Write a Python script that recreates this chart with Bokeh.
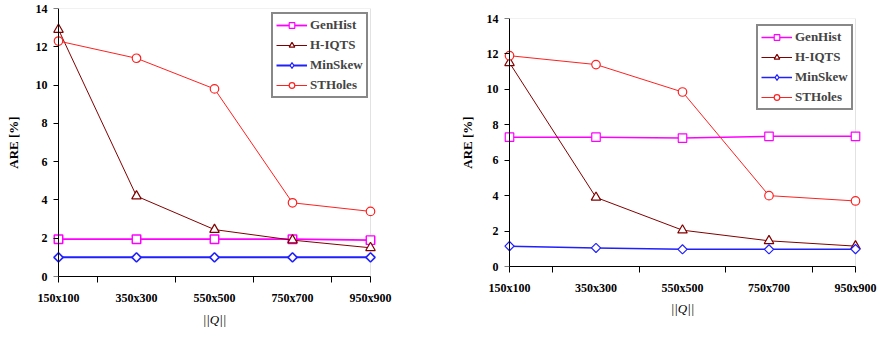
import numpy as np
from bokeh.plotting import figure
from bokeh.layouts import row
from bokeh.models import (Range1d, FixedTicker, BoxAnnotation, Legend, LinearAxis)
from bokeh.embed import file_html
from bokeh.resources import INLINE

# Query sizes on the category axis
categories = ["150x100", "350x300", "550x500", "750x700", "950x900"]
y_ticks = [0, 2, 4, 6, 8, 10, 12, 14]

# Average relative error [%] per method, first data set
left_genhist = [1.95, 1.95, 1.95, 1.95, 1.9]
left_hiqts = [12.9, 4.2, 2.45, 1.9, 1.5]
left_minskew = [1.0, 1.0, 1.0, 1.0, 1.0]
left_stholes = [12.3, 11.4, 9.8, 3.85, 3.4]

# Average relative error [%] per method, second data set
right_genhist = [7.3, 7.3, 7.25, 7.35, 7.35]
right_hiqts = [11.5, 3.9, 2.05, 1.45, 1.15]
right_minskew = [1.15, 1.05, 0.97, 0.97, 0.98]
right_stholes = [11.9, 11.4, 9.85, 4.0, 3.7]

SERIF = "Liberation Serif"
PAD_PX = 8


def make_panel(width, height, px_per_cat, x0_px, border_top, border_bottom,
               series, legend_pos, ylabel_standoff, xlabel_standoff,
               blue_width, magenta_width):
    n = len(categories)
    xs = list(range(n))
    pad = PAD_PX / px_per_cat
    frame_left = x0_px - PAD_PX
    frame_right = int(round(x0_px + px_per_cat * (n - 1) + PAD_PX))
    p = figure(width=width, height=height, title=None,
               x_range=Range1d(-pad, n - 1 + pad), y_range=Range1d(0, 14),
               output_backend="svg", toolbar_location=None,
               min_border_left=frame_left, min_border_top=border_top,
               min_border_bottom=border_bottom,
               min_border_right=width - frame_right)
    p.frame_align = False
    p.outline_line_color = None
    p.background_fill_color = "white"
    p.border_fill_color = "white"
    p.xgrid.visible = False
    p.ygrid.visible = False

    # Category axis: labels under each point, tick marks between them
    xa = p.xaxis[0]
    xa.bounds = (0, n - 1)
    mids = [0] + [i + 0.5 for i in range(n - 1)] + [n - 1]
    xa.ticker = FixedTicker(ticks=xs, minor_ticks=mids)
    xa.major_label_overrides = {i: c for i, c in enumerate(categories)}
    xa.major_tick_out = 0
    xa.major_tick_in = 0
    xa.minor_tick_out = 6
    xa.minor_tick_in = 0
    xa.minor_tick_line_color = "black"
    xa.axis_line_color = "black"
    xa.major_label_standoff = 8
    xa.axis_label = "||Q||"
    xa.axis_label_text_font_style = "italic"
    xa.axis_label_text_font_size = "13px"
    xa.axis_label_standoff = xlabel_standoff

    # Value labels and title sit on the panel edge ...
    ya = p.yaxis[0]
    ya.ticker = FixedTicker(ticks=y_ticks, minor_ticks=[])
    ya.axis_line_color = None
    ya.major_tick_line_color = None
    ya.minor_tick_line_color = None
    ya.major_tick_out = 0
    ya.major_tick_in = 0
    ya.major_label_standoff = 3
    ya.axis_label = "ARE [%]"
    ya.axis_label_text_font_style = "bold"
    ya.axis_label_text_font_size = "13px"
    ya.axis_label_standoff = ylabel_standoff

    # ... while the axis line and its ticks are drawn at the first category
    yline = LinearAxis(fixed_location=0,
                       ticker=FixedTicker(ticks=y_ticks, minor_ticks=[]),
                       major_label_overrides={t: "" for t in y_ticks},
                       major_tick_in=5, major_tick_out=0,
                       major_label_standoff=0,
                       axis_line_color="black", major_tick_line_color="black",
                       minor_tick_line_color=None)
    p.add_layout(yline, "right")

    for ax in (xa, ya):
        ax.major_label_text_font = SERIF
        ax.major_label_text_font_style = "bold"
        ax.major_label_text_font_size = "12px"
        ax.major_label_text_color = "black"
        ax.axis_label_text_font = SERIF
        ax.axis_label_text_color = "black"

    # Plot-area border
    p.add_layout(BoxAnnotation(left=0, right=n - 1, bottom=0, top=14,
                               fill_color=None, line_color="#a0a0a0",
                               line_width=1, level="underlay"))

    genhist, hiqts, minskew, stholes = series
    # name, values, colour, line width, marker, angle, size, legend marker, legend size
    specs = [
        ("GenHist", genhist, "#ff00ff", magenta_width, "square", 0.0, 8.5, "square", 8),
        ("H-IQTS", hiqts, "#800000", 1.0, "triangle", 0.0, 9.5, "triangle", 9),
        ("MinSkew", minskew, "#2020ff", blue_width, "square", np.pi / 4, 6.5, "diamond", 9),
        ("STHoles", stholes, "#ff2020", 1.0, "circle", 0.0, 8.5, "circle", 8),
    ]
    items = []
    for name, vals, color, lw, marker, ang, size, lmarker, lsize in specs:
        r1 = p.line(xs, vals, line_color=color, line_width=lw)
        p.scatter(xs, vals, marker=marker, angle=ang, size=size,
                  fill_color="white", line_color=color,
                  line_width=max(1.2, lw * 0.8))
        # unrotated copy of the marker, shown only as the legend swatch
        r3 = p.scatter(xs, vals, marker=lmarker, size=lsize,
                       fill_color="white", line_color=color, line_width=1.2,
                       visible=False)
        items.append((name, [r1, r3]))

    legend = Legend(items=items, location=legend_pos)
    legend.label_text_font = SERIF
    legend.label_text_font_style = "bold"
    legend.label_text_font_size = "13px"
    legend.glyph_width = 31
    legend.glyph_height = 14
    legend.label_height = 14
    legend.label_standoff = 3
    legend.spacing = 4
    legend.padding = 3
    legend.margin = 0
    legend.border_line_color = "#111111"
    legend.border_line_width = 2
    legend.background_fill_color = "white"
    legend.background_fill_alpha = 1.0
    p.add_layout(legend, "center")
    return p


left = make_panel(440, 338, 78.0, 58, 8, 62,
                  (left_genhist, left_hiqts, left_minskew, left_stholes),
                  (221, 178), 12, 4, 2.0, 1.8)
right = make_panel(438, 338, 86.5, 69, 18, 72,
                   (right_genhist, right_hiqts, right_minskew, right_stholes),
                   (255, 156), 9, 3, 1.5, 1.5)

layout = row(left, right)
open("out.html", "w").write(file_html(layout, INLINE))
